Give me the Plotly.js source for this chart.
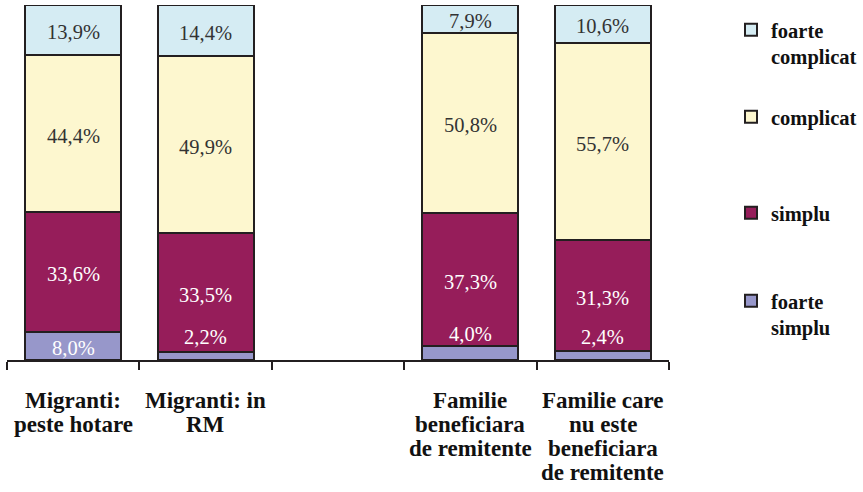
<!DOCTYPE html>
<html>
<head>
<meta charset="utf-8">
<script src="https://cdn.plot.ly/plotly-3.0.1.min.js"></script>
<style>html,body{margin:0;padding:0;background:#fff;}#chart{width:863px;height:492px;}</style>
</head>
<body>
<div id="chart"></div>
<script>
// ---- Data ----
const categories = ['Migranti: peste hotare', 'Migranti: in RM', ' ', 'Familie beneficiara de remitente', 'Familie care nu este beneficiara de remitente'];
const tickLabels = [['Migranti:', 'peste hotare'], ['Migranti: in', 'RM'], [], ['Familie', 'beneficiara', 'de remitente'], ['Familie care', 'nu este', 'beneficiara', 'de remitente']];
const seriesNames = ['foarte simplu', 'simplu', 'complicat', 'foarte complicat'];
const legendNames = ['foarte<br>simplu', 'simplu', 'complicat', 'foarte<br>complicat'];
const foarteSimplu = [8.0, 2.2, null, 4.0, 2.4];
const simplu = [33.6, 33.5, null, 37.3, 31.3];
const complicat = [44.4, 49.9, null, 50.8, 55.7];
const foarteComplicat = [13.9, 14.4, null, 7.9, 10.6];

// ---- Styles ----
const FONT = '"Liberation Serif", "Times New Roman", Times, serif';
const fillColors = ['#9797CA', '#961D5A', '#FDF7CF', '#D5ECF3'];
const labelColors = ['#FFFFFF', '#FFFFFF', '#333333', '#333333'];
const outline = '#231F20';
const legendIds = ['legend4', 'legend3', 'legend2', 'legend'];
const legendTopPx = [281, 193, 97, 10];

const values = [foarteSimplu, simplu, complicat, foarteComplicat];
const W = 863, H = 492;
const margin = {l: 7, r: 194, t: 5, b: 132, autoexpand: false};
const plotH = H - margin.t - margin.b;
const pxToPaperY = py => 1 - (py - margin.t) / plotH;
const pxToPaperX = px => (px - margin.l) / (W - margin.l - margin.r);

const traces = values.map((vals, s) => ({
  type: 'bar',
  name: legendNames[s],
  x: categories,
  y: vals,
  legend: legendIds[s],
  marker: {color: fillColors[s], line: {color: outline, width: 2}},
  hoverinfo: 'skip'
}));

const fmt = v => v.toFixed(1).replace('.', ',') + '%';
const annotations = [];
categories.forEach((cat, i) => {
  let cum = 0;
  values.forEach((vals, s) => {
    const v = vals[i];
    if (v === null) return;
    annotations.push({
      x: cat, y: cum + v / 2, xref: 'x', yref: 'y',
      text: fmt(v), showarrow: false,
      yshift: v < 5 ? 19 : -2,
      font: {family: FONT, size: 20.5, color: labelColors[s]}
    });
    cum += v;
  });
  tickLabels[i].forEach((line, k) => {
    annotations.push({
      x: cat, y: 0, xref: 'x', yref: 'paper',
      text: line, showarrow: false, yanchor: 'middle',
      yshift: -40 - 24 * k,
      font: {family: FONT, size: 23, color: '#111111', weight: 'bold'}
    });
  });
});

const layout = {
  width: W, height: H,
  margin: margin,
  paper_bgcolor: '#ffffff', plot_bgcolor: '#ffffff',
  barmode: 'stack',
  bargap: 0.275,
  font: {family: FONT, color: '#111111'},
  xaxis: {
    type: 'category', categoryorder: 'array', categoryarray: categories,
    range: [-0.5, 4.5], fixedrange: true, automargin: false,
    showline: true, linecolor: outline, linewidth: 2,
    ticks: 'outside', tickson: 'boundaries', ticklen: 8, tickwidth: 2, tickcolor: outline,
    showticklabels: false, showgrid: false, zeroline: false
  },
  yaxis: {range: [0, 100], visible: false, fixedrange: true, automargin: false},
  annotations: annotations,
  showlegend: true
};
legendIds.forEach((id, s) => {
  layout[id] = {
    x: pxToPaperX(731), xanchor: 'left',
    y: pxToPaperY(legendTopPx[s]), yanchor: 'top',
    bgcolor: 'rgba(0,0,0,0)', borderwidth: 0, valign: 'top',
    font: {family: FONT, size: 20.5, color: '#111111', weight: 'bold'}
  };
});

Plotly.newPlot('chart', traces, layout, {staticPlot: true, displayModeBar: false});
</script>
</body>
</html>
